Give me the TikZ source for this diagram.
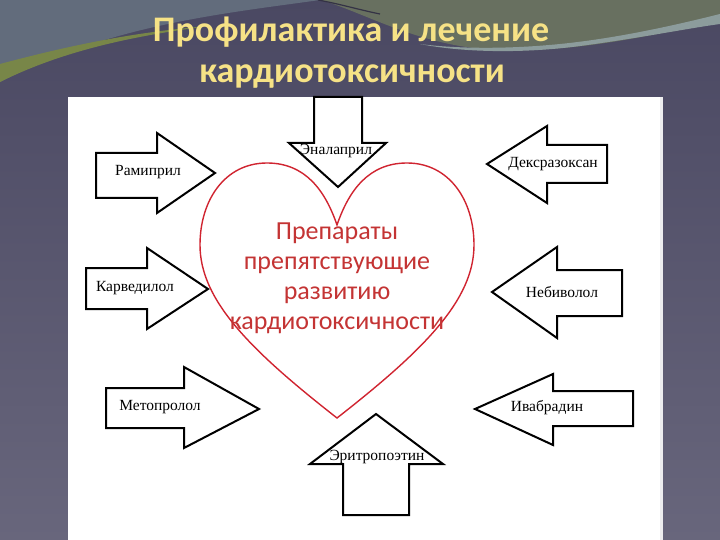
\documentclass[tikz,border=0pt]{standalone}
\usepackage{fontspec}
\setmainfont{Liberation Serif}
\newfontfamily\calib{Carlito}
\definecolor{slate}{RGB}{74,72,98}
\definecolor{slatelow}{RGB}{104,102,124}
\definecolor{swgray}{RGB}{98,108,124}
\definecolor{swolive}{RGB}{120,134,72}
\definecolor{swright}{RGB}{104,112,96}
\definecolor{swstripe}{RGB}{140,156,156}
\definecolor{titleyellow}{RGB}{246,226,134}
\definecolor{heartred}{RGB}{208,36,48}
\definecolor{hearttext}{RGB}{196,52,52}
\begin{document}
\begin{tikzpicture}[x=1pt,y=-1pt,
    drugarrow/.style={draw=black,line width=2pt,fill=white,line join=miter},
    druglabel/.style={font=\fontsize{15.5}{18}\selectfont,text=black,inner sep=0pt},
    titletext/.style={font=\calib\bfseries\fontsize{36}{42}\selectfont,text=titleyellow,anchor=base,inner sep=0pt}]
  \useasboundingbox (0,0) rectangle (720,540);
  % background
  \shade[top color=slate,bottom color=slatelow] (0,0) rectangle (720,540);
  \fill[swgray] (0,0) -- (320,0) .. controls (220,14) and (110,25) .. (0,82) -- cycle;
  \fill[swolive] (0,82) .. controls (60,52) and (130,36) .. (210,26)
    .. controls (130,32) and (60,48) .. (0,64) -- cycle;
  \fill[swright] (320,0) .. controls (360,10) and (420,48) .. (500,50)
    .. controls (590,52) and (660,32) .. (720,22) -- (720,0) -- cycle;
  \fill[swstripe] (420,44) .. controls (460,52) and (520,54) .. (580,46)
    .. controls (640,38) and (690,28) .. (720,24) -- (720,14)
    .. controls (680,24) and (620,38) .. (560,44) .. controls (500,50) and (450,48) .. (420,44) -- cycle;
  \draw[slate!70!black,line width=1.2pt] (318,0) .. controls (340,4) and (360,10) .. (380,14);
  % title
  \node[titletext] (title1) at (351,42) {Профилактика и лечение};
  \node[titletext] (title2) at (352,83) {кардиотоксичности};
  % white sheet
  \fill[white!90!slate] (660,97) rectangle (663,540);
  \fill[white] (68,97) rectangle (660,540);
  % heart
  \draw[heartred,line width=1.4pt] (337,225) .. controls (325,190) and (305,163) .. (267,163)
    .. controls (225,163) and (200,200) .. (200,245)
    .. controls (200,300) and (250,350) .. (337,418)
    .. controls (424,350) and (474,300) .. (474,245)
    .. controls (474,200) and (449,163) .. (407,163)
    .. controls (369,163) and (349,190) .. (337,225) -- cycle;
  \node[font=\calib\fontsize{26}{30}\selectfont,text=hearttext,align=center] (heart) at (337,278)
    {Препараты\\ препятствующие\\ развитию\\ кардиотоксичности};
  % arrows
  \begin{scope}[every path/.style={drugarrow}]
    \path (96,153) -- (157,153) -- (157,133) -- (215,173) -- (157,213) -- (157,198) -- (96,198) -- cycle;
    \path (314,97) -- (362,97) -- (362,143) -- (386,143) -- (338,187) -- (289,143) -- (314,143) -- cycle;
    \path (607,145) -- (547,145) -- (547,126) -- (487,164) -- (547,203) -- (547,183) -- (607,183) -- cycle;
    \path (86,268) -- (147,268) -- (147,248) -- (208,289) -- (147,329) -- (147,309) -- (86,309) -- cycle;
    \path (106,388) -- (184,388) -- (184,367) -- (259,409) -- (184,448) -- (184,428) -- (106,428) -- cycle;
    \path (622,270) -- (557,270) -- (557,247) -- (492,292) -- (557,338) -- (557,316) -- (622,316) -- cycle;
    \path (633,391) -- (553,391) -- (553,374) -- (475,409) -- (553,445) -- (553,426) -- (633,426) -- cycle;
    \path (343,515) -- (409,515) -- (409,464) -- (443,464) -- (376,414) -- (310,464) -- (343,464) -- cycle;
  \end{scope}
  \begin{scope}[every node/.style={druglabel}]
    \node (ramipril) at (148,172) {Рамиприл};
    \node (enalapril) at (336,151) {Эналаприл};
    \node (dexrazoxane) at (553,164) {Дексразоксан};
    \node (carvedilol) at (135,288) {Карведилол};
    \node (metoprolol) at (160,407) {Метопролол};
    \node (nebivolol) at (562,292) {Небиволол};
    \node (ivabradine) at (547,408) {Ивабрадин};
    \node (epoetin) at (377,457) {Эритропоэтин};
  \end{scope}
\end{tikzpicture}
\end{document}
